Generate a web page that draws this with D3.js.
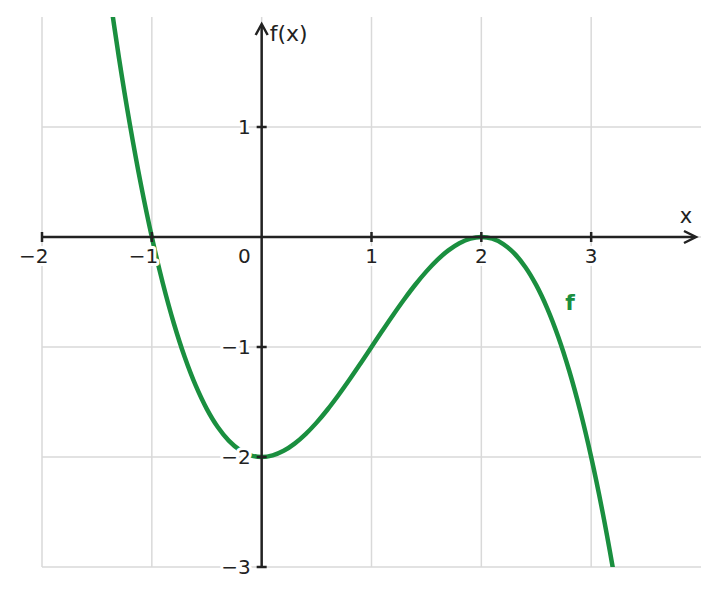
<!DOCTYPE html>
<html><head><meta charset="utf-8">
<script src="https://cdn.jsdelivr.net/npm/d3@7"></script>
<style>body{margin:0;background:#fff}svg{display:block}text{font-family:"DejaVu Sans",sans-serif}</style>
</head><body>
<script>
const xTicks = [-2, -1, 1, 2, 3];
const yTicks = [1, -1, -2, -3];
const xGrid = [-2, -1, 0, 1, 2, 3];
const yGrid = [1, 0, -1, -2, -3];
const curveX = [-1.4,-1.3,-1.2,-1.1,-1.0,-0.9,-0.8,-0.7,-0.6,-0.5,-0.4,-0.3,-0.2,-0.1,0,0.1,0.2,0.3,0.4,0.5,0.6,0.7,0.8,0.9,1.0,1.1,1.2,1.3,1.4,1.5,1.6,1.7,1.8,1.9,2.0,2.1,2.2,2.3,2.4,2.5,2.6,2.7,2.8,2.9,3.0,3.1,3.2,3.3];
const curveY = [2.312,1.6335,1.024,0.4805,0,-0.4205,-0.784,-1.0935,-1.352,-1.5625,-1.728,-1.8515,-1.936,-1.9845,-2,-1.9855,-1.944,-1.8785,-1.792,-1.6875,-1.568,-1.4365,-1.296,-1.1495,-1,-0.8505,-0.704,-0.5635,-0.432,-0.3125,-0.208,-0.1215,-0.056,-0.0145,0,-0.0155,-0.064,-0.1485,-0.272,-0.4375,-0.648,-0.9065,-1.216,-1.5795,-2,-2.4805,-3.024,-3.6335];
const seriesLabel = "f";

const W = 719, H = 595;
const x = d3.scaleLinear().domain([-2, 4]).range([42, 701]);
const y = d3.scaleLinear().domain([-3, 2]).range([567, 17]);
const svg = d3.select("body").append("svg").attr("width", W).attr("height", H);

svg.append("defs").append("clipPath").attr("id","clip").append("rect")
  .attr("x", x(-2)).attr("y", y(2)).attr("width", x(4)-x(-2)).attr("height", y(-3)-y(2));

const grid = svg.append("g").attr("stroke", "#d9d9d9").attr("stroke-width", 1.5);
grid.selectAll(".gx").data(xGrid).join("line")
  .attr("x1", d=>x(d)).attr("x2", d=>x(d)).attr("y1", y(2)).attr("y2", y(-3));
grid.selectAll(".gy").data(yGrid).join("line")
  .attr("x1", x(-2)).attr("x2", x(4)).attr("y1", d=>y(d)).attr("y2", d=>y(d));

const pts = curveX.map((v,i)=>[v, curveY[i]]);
svg.append("path").datum(pts).attr("clip-path","url(#clip)")
  .attr("fill","none").attr("stroke","#1a8f3f").attr("stroke-width",4.5)
  .attr("d", d3.line().x(d=>x(d[0])).y(d=>y(d[1])).curve(d3.curveCatmullRom));

const axCol = "#222";
const ax = x(4)-5, ay = y(0);
const bx = x(0), by = y(2)+7;
svg.append("line").attr("x1", x(-2)).attr("x2", ax-1).attr("y1", ay).attr("y2", ay)
  .attr("stroke", axCol).attr("stroke-width", 2.5);
svg.append("line").attr("x1", bx).attr("x2", bx).attr("y1", y(-3)).attr("y2", by+1)
  .attr("stroke", axCol).attr("stroke-width", 2.5);
svg.append("path").attr("d", `M${ax-12},${ay-6}L${ax},${ay}L${ax-12},${ay+6}`)
  .attr("fill","none").attr("stroke",axCol).attr("stroke-width",2.5);
svg.append("path").attr("d", `M${bx-6},${by+11}L${bx},${by}L${bx+6},${by+11}`)
  .attr("fill","none").attr("stroke",axCol).attr("stroke-width",2.5);

svg.selectAll(".tx").data(xTicks).join("line")
  .attr("x1", d=>x(d)).attr("x2", d=>x(d)).attr("y1", y(0)-5).attr("y2", y(0)+5)
  .attr("stroke", axCol).attr("stroke-width", 2.5);
svg.selectAll(".ty").data(yTicks).join("line")
  .attr("x1", x(0)-5).attr("x2", x(0)+5).attr("y1", d=>y(d)).attr("y2", d=>y(d))
  .attr("stroke", axCol).attr("stroke-width", 2.5);

const fs = 20;
const digitHalf = 0.318 * fs;
const fmt = d => d < 0 ? "\u2212" + Math.abs(d) : String(d);
const lab = svg.append("g").attr("font-size", fs).attr("fill", "#222")
  .attr("stroke","#fff").attr("stroke-width",6).attr("paint-order","stroke").attr("stroke-linejoin","round");
lab.selectAll(".lx").data(xTicks).join("text")
  .attr("x", d=>x(d) + digitHalf).attr("y", y(0)+26).attr("text-anchor","end").text(fmt);
lab.selectAll(".ly").data(yTicks).join("text")
  .attr("x", x(0)-11).attr("y", d=>y(d)+7).attr("text-anchor","end").text(fmt);
lab.append("text").attr("x", x(0)-11).attr("y", y(0)+26).attr("text-anchor","end").text("0");

svg.append("text").attr("x", x(0)+8).attr("y", 41).attr("font-size", 22).attr("fill","#222").text("f(x)");
svg.append("text").attr("x", 686).attr("y", 223).attr("font-size", 21).attr("fill","#222").attr("text-anchor","middle").text("x");
svg.append("text").attr("x", 570).attr("y", 310).attr("font-size", 22).attr("font-weight","bold")
  .attr("fill","#1a8f3f").attr("text-anchor","middle").text(seriesLabel);
</script>
</body></html>
